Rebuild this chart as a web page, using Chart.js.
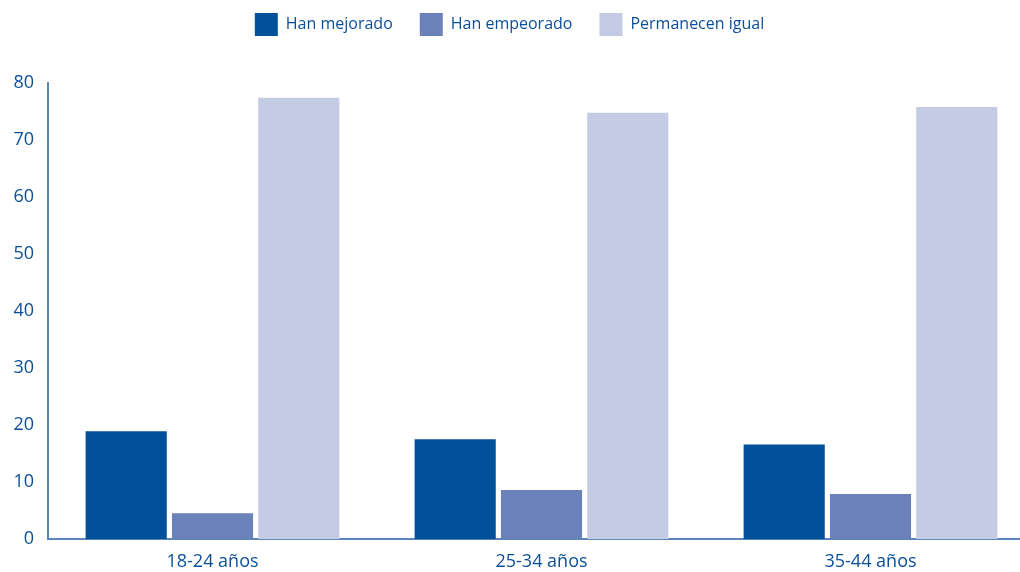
<!DOCTYPE html>
<html><head><meta charset="utf-8">
<script src="https://cdn.jsdelivr.net/npm/chart.js@4/dist/chart.umd.min.js"></script>
<style>html,body{margin:0;padding:0;background:#fff;overflow:hidden}#wrap{width:1020px;height:572px;overflow:hidden}</style>
</head><body><div id="wrap"><canvas id="c" width="1036" height="572"></canvas></div>
<script>
const categories = ["18-24 años", "25-34 años", "35-44 años"];
const mejorado = [18.9, 17.5, 16.6];
const empeorado = [4.5, 8.6, 7.9];
const igual = [77.4, 74.8, 75.8];
const seriesNames = ["Han mejorado", "Han empeorado", "Permanecen igual"];
const yTicks = [0, 10, 20, 30, 40, 50, 60, 70, 80];

const textColor = "#0b4f99";
const axisColor = "#5a86ba";
Chart.defaults.font.family = "'Open Sans', 'Noto Sans', sans-serif";

const legendShift = {
  id: "legendShift",
  afterLayout(chart) {
    const lg = chart.legend;
    lg.left -= 8; lg.right -= 8;
    lg.top -= 37; lg.bottom -= 37;
  }
};

new Chart(document.getElementById("c"), {
  type: "bar",
  data: {
    labels: categories,
    datasets: [
      {label: seriesNames[0], data: mejorado, backgroundColor: "#00509a"},
      {label: seriesNames[1], data: empeorado, backgroundColor: "#6a82b9"},
      {label: seriesNames[2], data: igual, backgroundColor: "#c4cbe4"}
    ]
  },
  plugins: [legendShift],
  options: {
    responsive: false,
    animation: false,
    layout: {padding: {left: 0, right: 1, top: 23, bottom: 0}},
    datasets: {bar: {barPercentage: 0.94, categoryPercentage: 0.787}},
    plugins: {
      legend: {
        position: "top",
        labels: {
          color: textColor,
          font: {size: 16},
          boxWidth: 23, boxHeight: 23,
          padding: 27
        }
      },
      tooltip: {enabled: false}
    },
    scales: {
      x: {
        grid: {display: false, drawTicks: false},
        border: {color: axisColor, width: 2},
        ticks: {color: textColor, font: {size: 18}, padding: 12},
        afterFit: s => { s.height = 33; }
      },
      y: {
        min: 0, max: 80,
        afterBuildTicks: s => { s.ticks = yTicks.map(v => ({value: v})); },
        grid: {display: false, drawTicks: false},
        border: {color: axisColor, width: 2},
        ticks: {color: textColor, font: {size: 18}, padding: 14},
        afterFit: s => { s.width = 48; }
      }
    }
  }
});
</script></body></html>
